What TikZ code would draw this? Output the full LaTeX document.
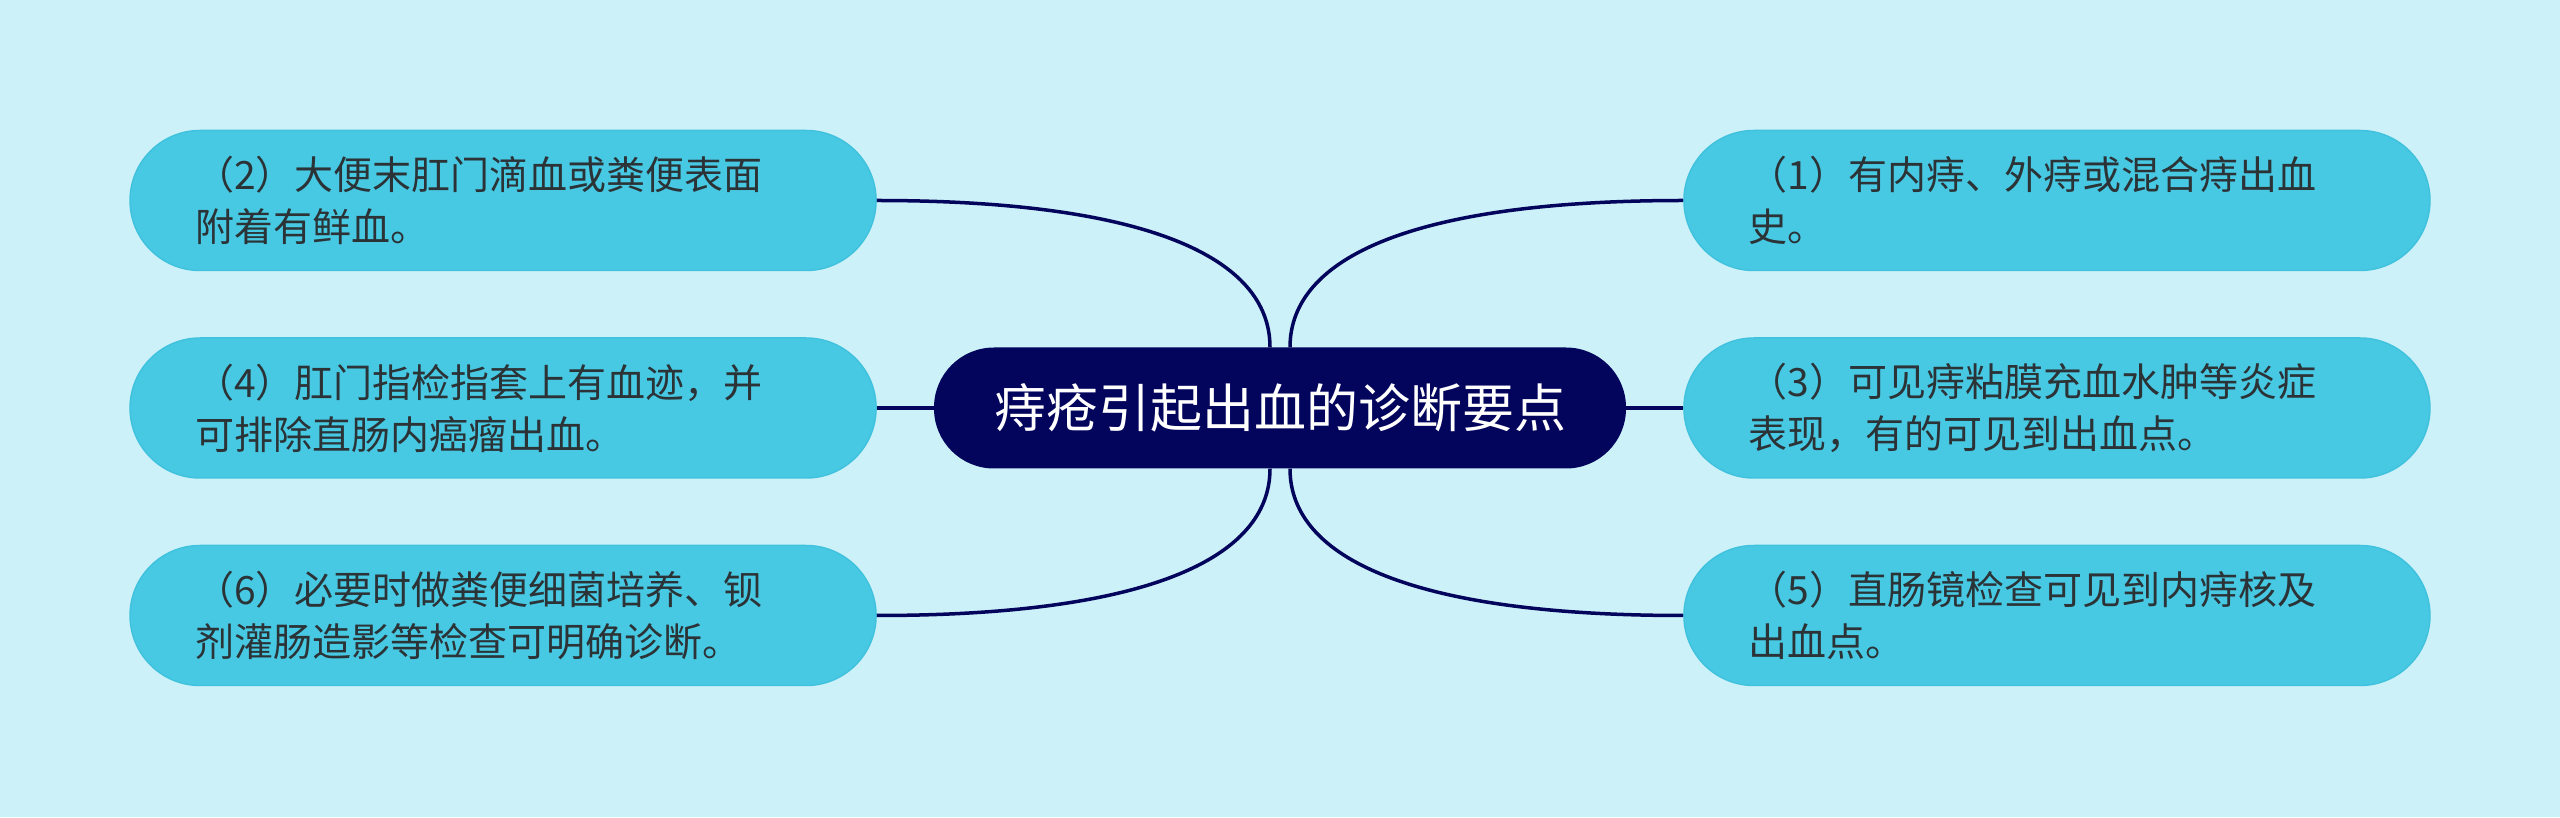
\documentclass[tikz,border=0pt]{standalone}
\usepackage{fontspec}
\setmainfont{Noto Sans CJK SC}
\usetikzlibrary{positioning}

\definecolor{bgcolor}{HTML}{CCF1F8}
\definecolor{topicfill}{HTML}{48C9E3}
\definecolor{topicline}{HTML}{40C2DE}
\definecolor{rootfill}{HTML}{03045C}
\definecolor{textgray}{HTML}{2B3337}

\begin{document}
\begin{tikzpicture}
    [
      x=1pt, y=1pt,
      root/.style={rectangle, rounded corners=60pt, minimum width=692pt, minimum height=121pt, fill=rootfill, text=white, font=\fontsize{52}{60}\selectfont},
      topic/.style={rectangle, rounded corners=70pt, minimum width=746pt, minimum height=140pt, fill=topicfill, draw=topicline, line width=1.5pt, text=textgray, text width=616pt, align=left, font=\fontsize{39}{52}\selectfont},
      link/.style={draw=rootfill, line width=3.5pt},
    ]

    \fill [bgcolor] (0,0) rectangle (2560,817);
    \useasboundingbox (0,0) rectangle (2560,817);

    \node (root) [root] at (1280,409) {痔疮引起出血的诊断要点};

    \node (topic-4) [topic, left=57pt of root] {（4）肛门指检指套上有血迹，并\\可排除直肠内癌瘤出血。};
    \node (topic-2) [topic, above=66pt of topic-4] {（2）大便末肛门滴血或粪便表面\\附着有鲜血。};
    \node (topic-6) [topic, below=66pt of topic-4] {（6）必要时做粪便细菌培养、钡\\剂灌肠造影等检查可明确诊断。};

    \node (topic-3) [topic, right=57pt of root] {（3）可见痔粘膜充血水肿等炎症\\表现，有的可见到出血点。};
    \node (topic-1) [topic, above=66pt of topic-3] {（1）有内痔、外痔或混合痔出血\\史。};
    \node (topic-5) [topic, below=66pt of topic-3] {（5）直肠镜检查可见到内痔核及\\出血点。};

    \coordinate (root-nw) at ([xshift=-10pt]root.north);
    \coordinate (root-ne) at ([xshift=10pt]root.north);
    \coordinate (root-sw) at ([xshift=-10pt]root.south);
    \coordinate (root-se) at ([xshift=10pt]root.south);

    \path
    (topic-2) edge [link, out=0, in=90, out distance=270pt, in distance=90pt] (root-nw)
    (topic-4) edge [link] (root)
    (topic-6) edge [link, out=0, in=-90, out distance=270pt, in distance=90pt] (root-sw)

    (topic-1) edge [link, out=180, in=90, out distance=270pt, in distance=90pt] (root-ne)
    (topic-3) edge [link] (root)
    (topic-5) edge [link, out=180, in=-90, out distance=270pt, in distance=90pt] (root-se)
    ;

  \end{tikzpicture}
\end{document}
